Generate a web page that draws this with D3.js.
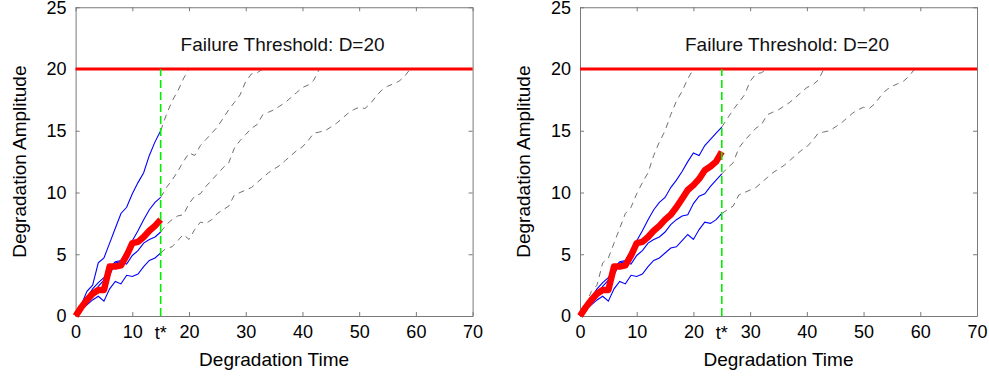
<!DOCTYPE html>
<meta charset="utf-8">
<head>
<style>
  body { margin:0; background:#fff; }
  text { font-family: Arial, "Liberation Sans", sans-serif; }
</style>
</head>

<script src="https://d3js.org/d3.v7.min.js"></script>

<div id="my_dataviz"></div>

<script>

// observed degradation of the unit (t = 0, 1, 2, ...)
var observed = [0, 0.7, 1.3, 1.8, 2.1, 2.1, 4.0, 4.0, 4.1, 4.9, 5.9, 6.0, 6.4, 6.9, 7.3, 7.8,
  8.2, 8.8, 9.5, 10.2, 10.6, 11.1, 11.8, 12.1, 12.5, 13.3];

// sample degradation paths, each one until it hits the threshold
var path1 = [0, 0.9, 2.0, 2.5, 4.3, 4.7, 5.9, 7.1, 8.3, 8.8, 9.9, 10.8, 11.6, 13.0, 14.1, 15.0,
  16.3, 17.4, 18.2, 19.2, 20.0];
var path2 = [0, 0.8, 1.5, 2.2, 2.7, 3.1, 3.9, 4.4, 4.5, 5.3, 6.1, 6.9, 7.8, 8.6, 9.2, 9.6,
  10.4, 11.0, 11.7, 12.5, 13.2, 13.0, 13.8, 14.3, 14.8, 15.3, 16.0, 16.7, 17.3, 17.9, 19.0,
  19.6, 19.7, 20.0];
var path3 = [0, 0.6, 1.2, 1.8, 2.4, 2.9, 3.3, 4.3, 4.4, 4.2, 4.9, 5.3, 5.9, 6.2, 6.4, 6.8,
  7.4, 7.8, 8.1, 8.2, 9.1, 9.7, 9.9, 10.5, 11.0, 11.5, 12.0, 12.4, 13.6, 14.2, 14.7, 15.2,
  15.5, 16.3, 16.5, 16.7, 17.0, 17.3, 17.7, 18.1, 18.5, 18.7, 19.1, 20.0];
var path4 = [0, 0.5, 0.9, 1.3, 1.6, 1.2, 2.2, 2.8, 2.6, 3.3, 3.2, 3.4, 4.0, 4.5, 4.7, 5.1,
  5.5, 5.6, 6.1, 6.6, 6.2, 7.0, 7.6, 7.5, 7.8, 8.3, 8.6, 8.9, 9.8, 10.0, 10.2, 10.4, 10.8,
  11.2, 11.6, 11.9, 12.2, 12.6, 13.0, 13.4, 13.7, 14.2, 14.8, 14.9, 15.0, 15.3, 15.6, 16.0,
  16.4, 16.7, 16.9, 16.8, 17.2, 17.8, 18.3, 18.6, 18.8, 19.0, 19.4, 20.0];

var paths = [path1, path2, path3, path4];

// current time of each panel
var tStars = [15, 25];
var threshold = 20;

var xTicks = [0, 10, 20, 30, 40, 50, 60, 70];
var yTicks = [0, 5, 10, 15, 20, 25];

// layout
var plotW = 397, plotH = 308.75, plotTop = 7.25;
var panelLeft = [75.6, 580];

var svg = d3.select("#my_dataviz")
  .append("svg")
    .attr("width", 989)
    .attr("height", 376);

var x = d3.scaleLinear().domain([0, 70]).range([0, plotW]);
var y = d3.scaleLinear().domain([0, 25]).range([plotH, 0]);

var line = d3.line()
  .x(function(d) { return x(d.t); })
  .y(function(d) { return y(d.v); });

function toPoints(vals, from, to) {
  var pts = [];
  vals.forEach(function(v, i) {
    if (i >= from && i <= to) pts.push({t: i, v: v});
  });
  return pts;
}

function drawPanel(k) {
  var tStar = tStars[k];
  var g = svg.append("g")
    .attr("transform", "translate(" + panelLeft[k] + "," + plotTop + ")");

  // frame + inward ticks
  function styleAxis(a) {
    a.selectAll(".domain").attr("stroke", "#7a7a7a");
    a.selectAll(".tick line").attr("stroke", "#7a7a7a");
    a.selectAll("text").attr("fill", "#000").attr("font-size", 18)
      .attr("font-family", "Arial, 'Liberation Sans', sans-serif");
  }
  g.append("g")
    .attr("transform", "translate(0," + plotH + ")")
    .call(d3.axisBottom(x).tickValues(xTicks).tickSizeInner(-4).tickSizeOuter(0).tickPadding(9))
    .call(styleAxis);
  g.append("g")
    .call(d3.axisTop(x).tickValues(xTicks).tickSizeInner(-4).tickSizeOuter(0).tickFormat(""))
    .call(styleAxis);
  g.append("g")
    .call(d3.axisLeft(y).tickValues(yTicks).tickSizeInner(-4).tickSizeOuter(0).tickPadding(9))
    .call(styleAxis);
  g.append("g")
    .attr("transform", "translate(" + plotW + ",0)")
    .call(d3.axisRight(y).tickValues(yTicks).tickSizeInner(-4).tickSizeOuter(0).tickFormat(""))
    .call(styleAxis);

  // future parts of the sample paths (gray dashed)
  paths.forEach(function(p) {
    var failed = p.length - 1 <= tStar;
    var pts = failed ? toPoints(p, 0, p.length - 1) : toPoints(p, tStar, p.length - 1);
    g.append("path")
      .datum(pts)
      .attr("fill", "none")
      .attr("stroke", "#707070")
      .attr("stroke-width", 1)
      .attr("stroke-dasharray", "6,5")
      .attr("d", line);
  });

  // paths up to t* (blue)
  paths.forEach(function(p) {
    if (p.length - 1 <= tStar) return;
    g.append("path")
      .datum(toPoints(p, 0, tStar))
      .attr("fill", "none")
      .attr("stroke", "#0000ff")
      .attr("stroke-width", 1.1)
      .attr("d", line);
  });

  // observed path (thick red)
  g.append("path")
    .datum(toPoints(observed, 0, tStar))
    .attr("fill", "none")
    .attr("stroke", "#ff0000")
    .attr("stroke-width", 6.5)
    .attr("stroke-linejoin", "round")
    .attr("d", line);

  // failure threshold
  g.append("line")
    .attr("x1", x(0)).attr("x2", x(70))
    .attr("y1", y(threshold)).attr("y2", y(threshold))
    .attr("stroke", "#ff0000")
    .attr("stroke-width", 3.2);

  // current time t*
  g.append("line")
    .attr("x1", x(tStar)).attr("x2", x(tStar))
    .attr("y1", y(0)).attr("y2", y(threshold))
    .attr("stroke", "#00ee00")
    .attr("stroke-width", 1.6)
    .attr("stroke-dasharray", "8,4");

  g.append("text")
    .attr("x", x(tStar))
    .attr("y", plotH + 23)
    .attr("text-anchor", "middle")
    .attr("font-size", 18)
    .text("t*");

  g.append("text")
    .attr("x", x(36.5))
    .attr("y", 44)
    .attr("text-anchor", "middle")
    .attr("font-size", 19)
    .attr("fill", "#111")
    .text("Failure Threshold: D=20");

  g.append("text")
    .attr("x", plotW / 2)
    .attr("y", 359)
    .attr("text-anchor", "middle")
    .attr("font-size", 19)
    .text("Degradation Time");

  g.append("text")
    .attr("transform", "translate(" + (-50) + "," + (plotH / 2) + ") rotate(-90)")
    .attr("text-anchor", "middle")
    .attr("font-size", 19)
    .text("Degradation Amplitude");
}

drawPanel(0);
drawPanel(1);

</script>
